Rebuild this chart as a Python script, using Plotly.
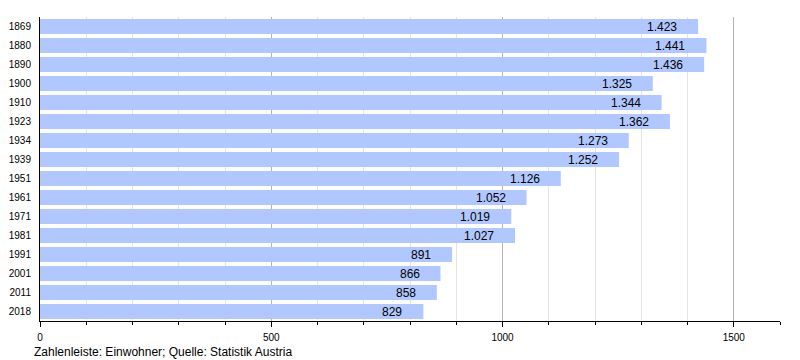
import plotly.graph_objects as go

years = ["1869", "1880", "1890", "1900", "1910", "1923", "1934", "1939",
         "1951", "1961", "1971", "1981", "1991", "2001", "2011", "2018"]
population = [1423, 1441, 1436, 1325, 1344, 1362, 1273, 1252,
              1126, 1052, 1019, 1027, 891, 866, 858, 829]
x_tick_values = [0, 500, 1000, 1500]
footer = "Zahlenleiste: Einwohner; Quelle: Statistik Austria"

def de_fmt(v):
    return f"{v:,}".replace(",", ".")

fig = go.Figure()
fig.add_trace(go.Bar(
    x=population, y=years, orientation="h",
    marker=dict(color="#b0c8ff", line=dict(width=0)),
    hoverinfo="x+y",
))

annotations = []
for i, v in enumerate(population):
    annotations.append(dict(
        x=v, y=i, xref="x", yref="y", text=de_fmt(v),
        showarrow=False, xanchor="right", yanchor="middle", xshift=-19,
        font=dict(family="Liberation Sans, Arial, sans-serif", size=12, color="#000"),
    ))
annotations.append(dict(
    x=0, y=-0.102, xref="paper", yref="paper", xshift=-8,
    text=footer, showarrow=False, xanchor="left", yanchor="middle",
    font=dict(family="Liberation Sans, Arial, sans-serif", size=12, color="#000"),
))

# page body has an 8px default margin, so the figure is 8px smaller on each axis
fig.update_layout(
    width=792, height=352,
    margin=dict(l=32, r=20, t=9, b=39),
    paper_bgcolor="white", plot_bgcolor="white",
    bargap=0.2,
    showlegend=False,
    font=dict(family="Liberation Sans, Arial, sans-serif", size=10, color="#000"),
    annotations=annotations,
    xaxis=dict(
        range=[0, 1600], tickvals=x_tick_values, ticktext=[str(t) for t in x_tick_values],
        showgrid=True, gridcolor="#b4b4b4", gridwidth=1,
        ticks="outside", ticklen=5, tickcolor="#000", tickwidth=1,
        showline=True, linecolor="#000", linewidth=1,
        zeroline=False, automargin=False, ticklabelstandoff=2,
        minor=dict(dtick=100, tick0=0, ticks="outside", ticklen=3, tickcolor="#000",
                   showgrid=True, gridcolor="#e4e4e4", gridwidth=1),
        tickfont=dict(size=10),
        fixedrange=True,
    ),
    yaxis=dict(
        type="category", categoryorder="array", categoryarray=years,
        range=[len(years) - 0.5, -0.5], autorange=False,
        showgrid=False, ticks="", showline=True, linecolor="#000", linewidth=1,
        ticklabelstandoff=6, tickfont=dict(size=10), automargin=False,
        fixedrange=True,
    ),
)

fig.write_html("out.html")
